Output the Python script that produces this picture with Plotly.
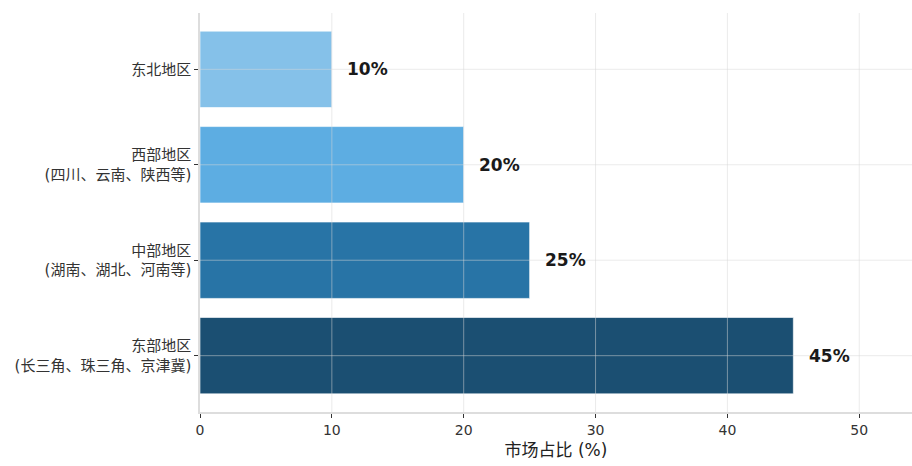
import plotly.graph_objects as go

# Regional market share data (bottom to top)
regions = [
    "东部地区<br>(长三角、珠三角、京津冀)",
    "中部地区<br>(湖南、湖北、河南等)",
    "西部地区<br>(四川、云南、陕西等)",
    "东北地区",
]
shares = [45, 25, 20, 10]
colors = ["#1B4F72", "#2874A6", "#5DADE2", "#85C1E9"]
x_ticks = [0, 10, 20, 30, 40, 50]

FONT = "DejaVu Sans, Noto Sans CJK SC, sans-serif"
GRID = "rgba(215,215,215,0.5)"

fig = go.Figure()
fig.add_trace(go.Bar(
    y=list(range(len(regions))),
    x=shares,
    orientation="h",
    width=0.8,
    marker=dict(color=colors, line=dict(color="rgba(255,255,255,0.6)", width=1)),
    hoverinfo="skip",
))

# Grid lines drawn on top of the bars
for t in x_ticks[1:]:
    fig.add_shape(type="line", xref="x", yref="paper", x0=t, x1=t, y0=0, y1=1,
                  line=dict(color=GRID, width=1), layer="above")
for i in range(len(regions)):
    fig.add_shape(type="line", xref="paper", yref="y", x0=0, x1=1, y0=i, y1=i,
                  line=dict(color=GRID, width=1), layer="above")

# Value labels to the right of each bar
for i, v in enumerate(shares):
    fig.add_annotation(
        x=v + 1, y=i, text=f"{v}%", showarrow=False,
        xanchor="left", yanchor="middle",
        font=dict(family=FONT, size=17, color="#1a1a1a", weight="bold"),
    )

fig.update_layout(
    width=912, height=466,
    margin=dict(l=200, r=0, t=13, b=54),
    paper_bgcolor="white", plot_bgcolor="white",
    showlegend=False,
    font=dict(family=FONT, color="#333333"),
)
fig.update_xaxes(
    range=[0, 54], tickvals=x_ticks,
    showgrid=False,
    showline=True, linecolor="#dddddd", linewidth=1.5,
    ticks="outside", ticklen=4, tickcolor="#333333",
    tickfont=dict(size=14, color="#333333"),
    title=dict(text="市场占比 (%)", font=dict(size=17, color="#222222"), standoff=8),
    zeroline=False,
)
fig.update_yaxes(
    range=[-0.59, 3.59], tickvals=list(range(len(regions))), ticktext=regions,
    showgrid=False,
    showline=True, linecolor="#dddddd", linewidth=1.5,
    ticks="outside", ticklen=4, tickcolor="#333333",
    tickfont=dict(size=15, color="#333333"),
    zeroline=False,
)

fig.write_html("out.html")
